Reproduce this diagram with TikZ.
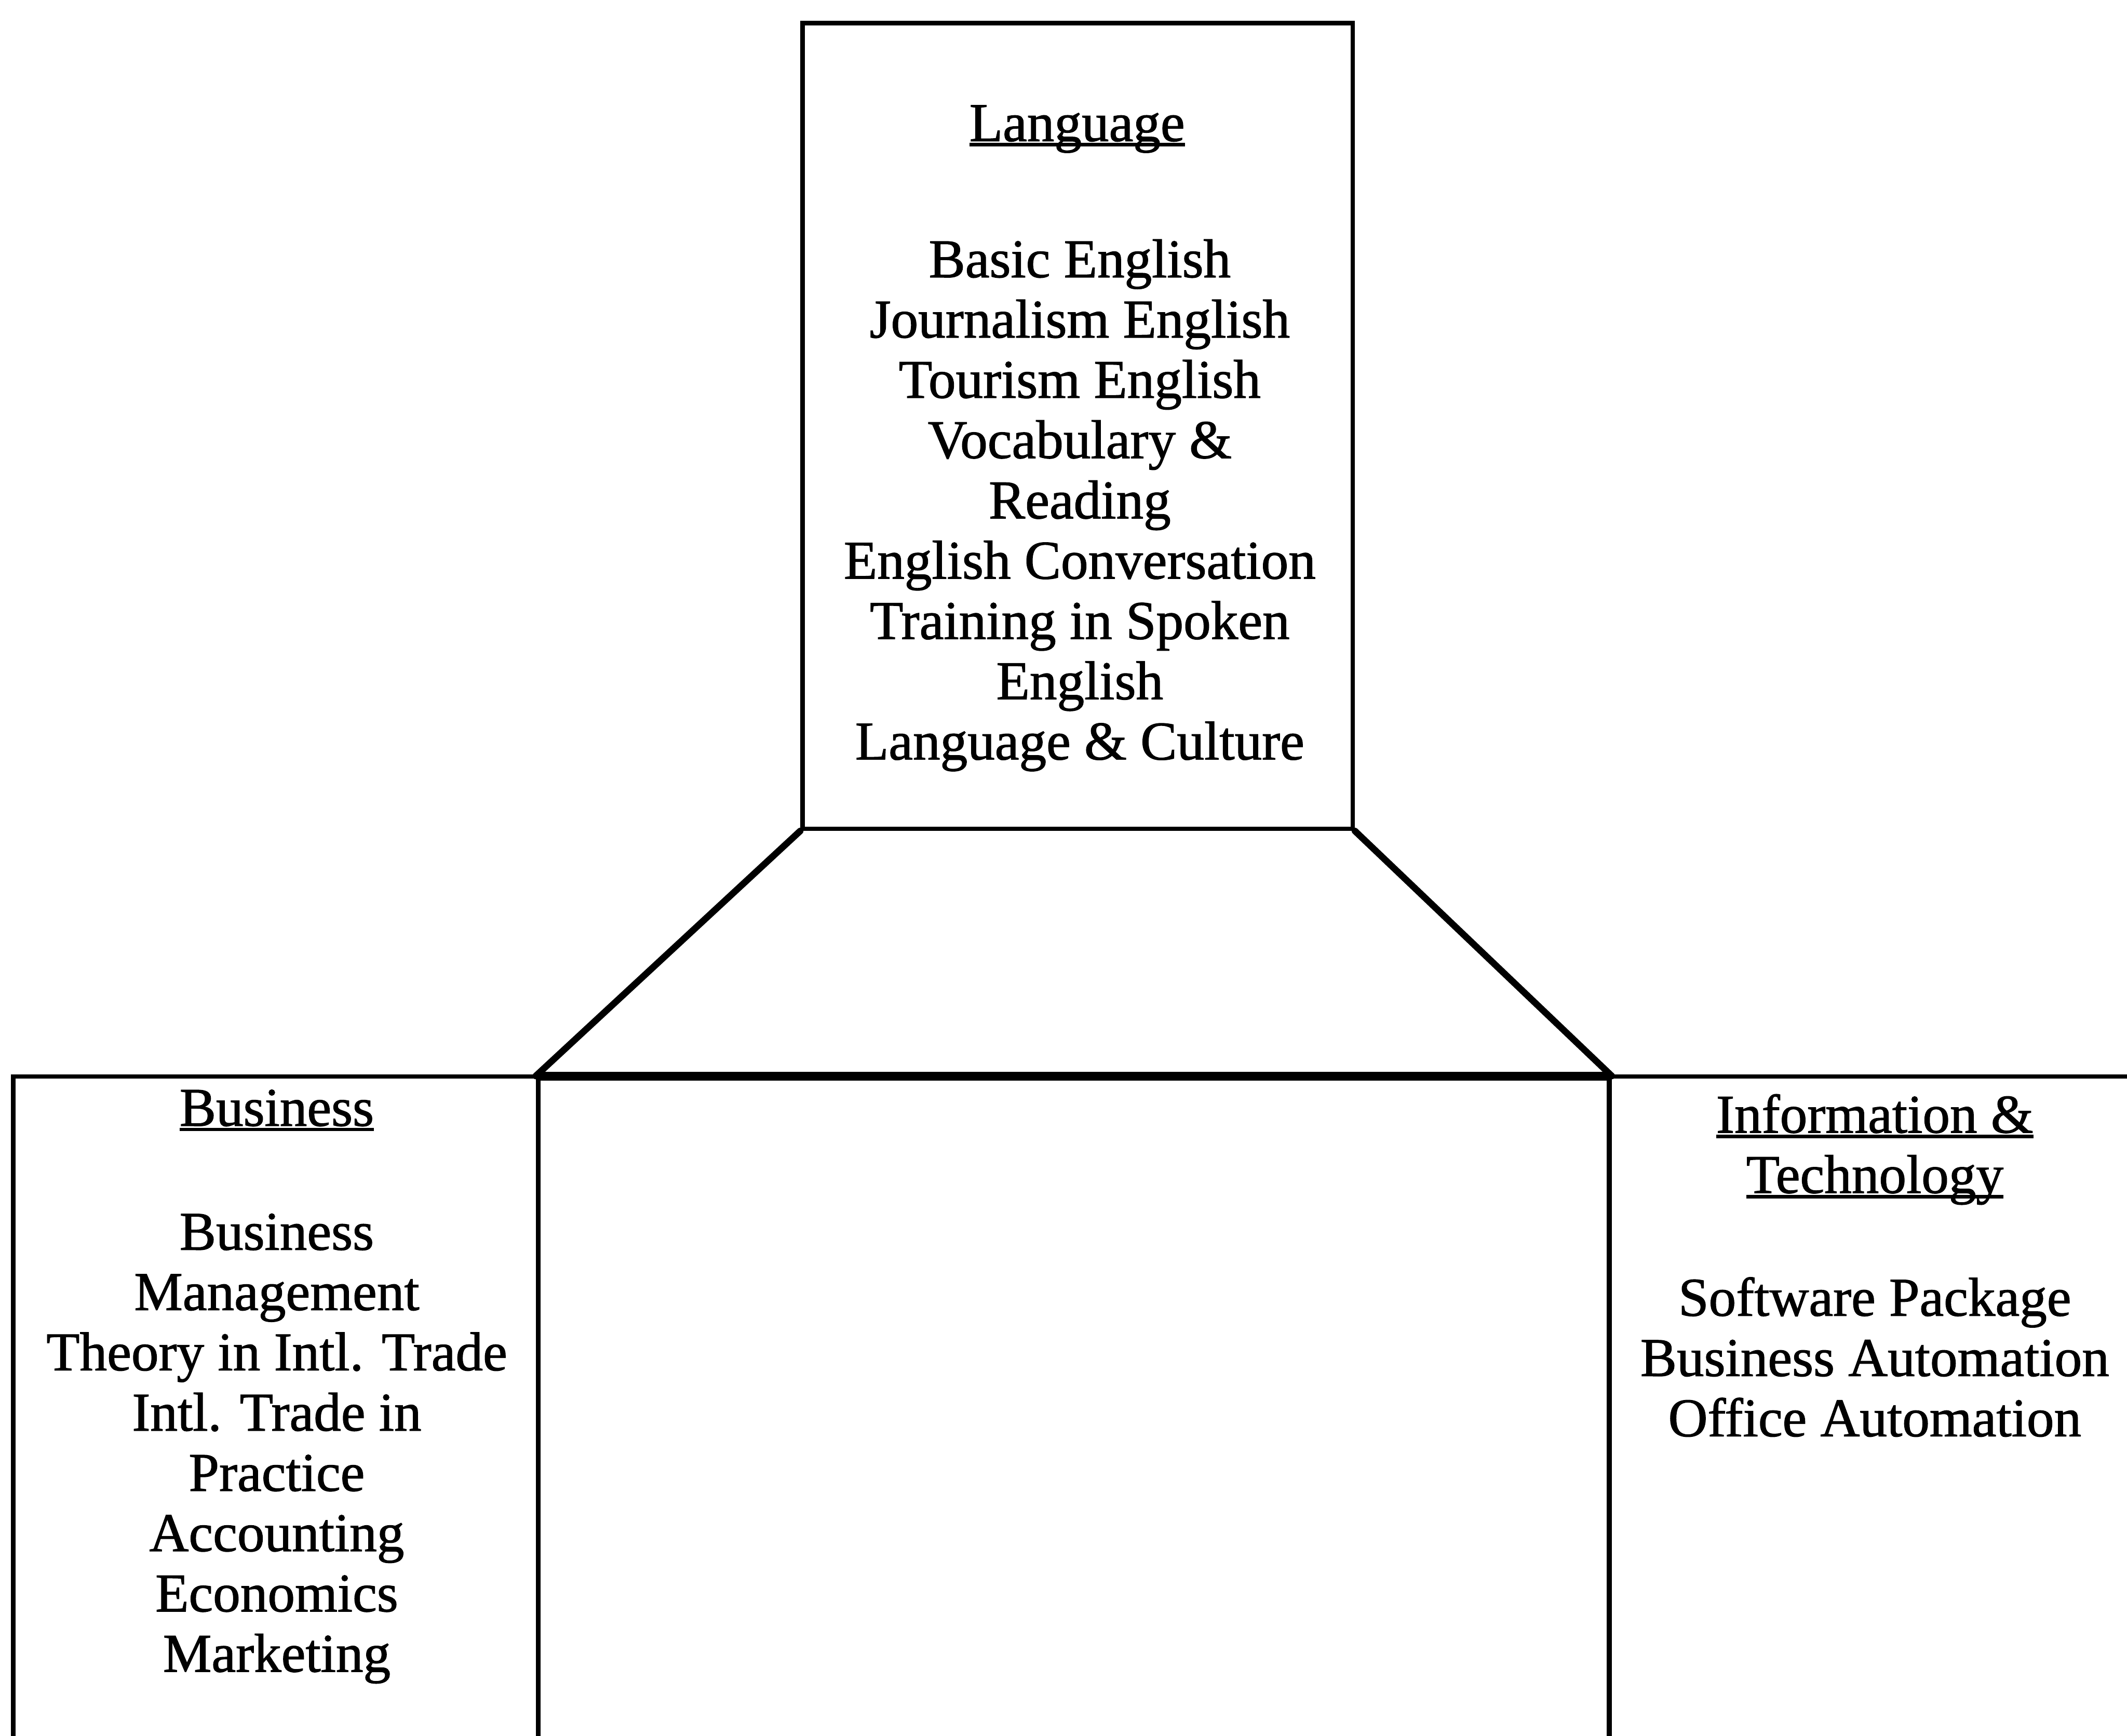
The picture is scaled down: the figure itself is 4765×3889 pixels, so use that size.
\documentclass[tikz,border=0pt]{standalone}
\usepackage{fontspec}
\setmainfont{Liberation Serif}[FakeBold=1.2]
\newcommand\ulin[1]{\begingroup\setbox0=\hbox{#1}\copy0\llap{\rule[-0.1em]{\wd0}{0.065em}}\endgroup}
\begin{document}
\begin{tikzpicture}[x=0.01cm,y=-0.01cm,
  box/.style={draw, line width=2.9pt, rectangle, inner sep=0pt},
  txt/.style={align=center, inner sep=0pt, font=\fontsize{34.8}{38.4}\selectfont},
  link/.style={line width=4.2pt, line cap=round}]
\path[use as bounding box, clip] (0,0) rectangle (4765,3889);
\fill[white] (0,0) rectangle (4765,3889);
% boxes
\node[box, minimum width=12.32cm, minimum height=18.04cm] (lang) at (2414,954) {};
\node[box, minimum width=11.76cm, minimum height=16.88cm] (bus) at (618,3256) {};
\node[box, minimum width=23.99cm, minimum height=16.84cm] (mid) at (2405.5,3258) {};
\node[box, minimum width=12.95cm, minimum height=16.88cm] (info) at (4252.5,3256) {};
% connectors
\draw[line width=5.5pt] (mid.north west) -- (mid.north east);
\draw[link] (lang.south west) -- (mid.north west);
\draw[link] (lang.south east) -- (mid.north east);
% texts
\node[txt, anchor=base] (langtitle) at (2413,316) {\ulin{Language}};
\node[txt] (langlist) at (2419,1132) {Basic English\\Journalism English\\Tourism English\\Vocabulary \&\\Reading\\English Conversation\\Training in Spoken\\English\\Language \& Culture};
\node[txt, anchor=base] (bustitle) at (620,2522) {\ulin{Business}};
\node[txt] (buslist) at (620,3245) {Business\\Management\\Theory in Intl. Trade\\Intl. Trade in\\Practice\\Accounting\\Economics\\Marketing};
\node[txt] (infotitle) at (4200,2575) {\ulin{Information \&}\\\ulin{Technology}};
\node[txt] (infolist) at (4200,3040) {Software Package\\Business Automation\\Office Automation};
\end{tikzpicture}
\end{document}
